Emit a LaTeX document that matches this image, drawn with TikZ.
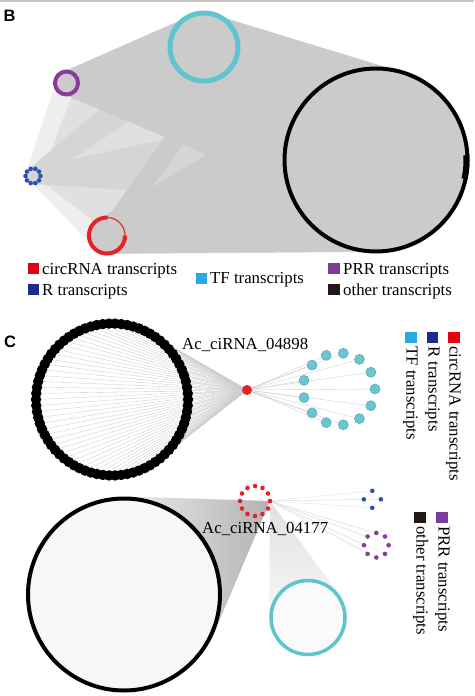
\documentclass[tikz,border=0pt]{standalone}
\usepackage{fontspec}
\setmainfont{Liberation Serif}
\newfontfamily\panelfont{Liberation Sans}
\usetikzlibrary{calc,backgrounds}
\definecolor{ringcyan}{HTML}{5EC5CF}
\definecolor{ringpurple}{HTML}{8A3B98}
\definecolor{ringblue}{HTML}{2D4FB3}
\definecolor{ringred}{HTML}{E8202A}
\definecolor{legred}{HTML}{E60012}
\definecolor{legblue}{HTML}{1B2C8C}
\definecolor{legcyan}{HTML}{29ABE2}
\definecolor{legpurple}{HTML}{7D3C98}
\definecolor{legblack}{HTML}{231815}
\definecolor{dotcyan}{HTML}{6CC6D1}
\definecolor{dotcyanedge}{HTML}{4FAAB6}
\definecolor{shadeA}{RGB}{203,203,203}
\definecolor{shadeB}{RGB}{213,213,213}
\definecolor{shadeC}{RGB}{224,224,224}
\definecolor{shadeD}{RGB}{238,238,238}
\tikzset{
  lab/.style={font=\fontsize{16.8}{18}\selectfont, inner sep=0pt, anchor=base west},
  panel/.style={font=\panelfont\bfseries\fontsize{16.5}{18}\selectfont, inner sep=0pt, anchor=base west},
  sq/.style={rectangle, inner sep=0pt, minimum width=11.5pt, minimum height=11pt},
  bdot/.style={circle, fill=black, inner sep=0pt, minimum size=10.5pt},
  cdot/.style={circle, fill=dotcyan, draw=dotcyanedge, line width=0.5pt, inner sep=0pt, minimum size=10pt},
  hub/.style={circle, fill=ringred, inner sep=0pt, minimum size=10pt},
  sdot/.style={circle, inner sep=0pt, minimum size=4.6pt},
  edgeC/.style={black!20, line width=0.35pt},
  edgeF/.style={black!12, line width=0.3pt},
}
% filled convex hull of two circles (solid colour)
\newcommand\hullfill[7]{%
  \pgfmathsetmacro\hphi{atan2((#5)-(#2),(#4)-(#1))}%
  \pgfmathsetmacro\hd{veclen((#4)-(#1),(#5)-(#2))}%
  \pgfmathsetmacro\hb{acos(((#3)-(#6))/\hd)}%
  \pgfmathsetmacro\haa{\hphi+\hb}%
  \pgfmathsetmacro\hba{\hphi-\hb}%
  \pgfmathsetmacro\pax{#1+#3*cos(\haa)}\pgfmathsetmacro\pay{#2+#3*sin(\haa)}%
  \pgfmathsetmacro\pbx{#4+#6*cos(\haa)}\pgfmathsetmacro\pby{#5+#6*sin(\haa)}%
  \pgfmathsetmacro\pcx{#4+#6*cos(\hba)}\pgfmathsetmacro\pcy{#5+#6*sin(\hba)}%
  \pgfmathsetmacro\pdx{#1+#3*cos(\hba)}\pgfmathsetmacro\pdy{#2+#3*sin(\hba)}%
  \fill[#7] (\pax,\pay) -- (\pbx,\pby) -- (\pcx,\pcy) -- (\pdx,\pdy) -- cycle;%
  \fill[#7] (#1,#2) circle[radius=#3];%
  \fill[#7] (#4,#5) circle[radius=#6];%
}
\begin{document}
\begin{tikzpicture}[x=1pt,y=-1pt]
\useasboundingbox (0,0) rectangle (474,696);
\begin{pgfonlayer}{background}
\fill[white] (0,0) rectangle (474,696);
\end{pgfonlayer}
\draw[black!22, line width=1.5pt] (0,0.75) -- (474,0.75);

% ---------------- Panel B ----------------
\node[panel] (labB) at (3.5,21.7) {B};
% faint underlayers
\fill[shadeD] (58,76) -- (25,176) -- (95,248) -- (120,228) -- (72,94) -- cycle;
\fill[shadeC] (62,72) -- (204,13) -- (403,72) -- (376,252) -- (107,254) -- (95,222) -- (40,180) -- (72,95) -- cycle;
\fill[shadeC] (376,160) circle[radius=91.5];
\fill[shadeC] (204,47) circle[radius=34];
% medium layer
\hullfill{33}{176}{8}{376}{150}{55}{shadeB}
\hullfill{33}{176}{8}{204}{47}{20}{shadeB}
% main layer
\hullfill{66.5}{83}{11.5}{376}{150}{70}{shadeA}
\hullfill{66.5}{83}{11.5}{204}{47}{34}{shadeA}
\hullfill{204}{47}{34}{376}{160}{91.5}{shadeA}
\hullfill{107}{235.5}{18}{376}{160}{91.5}{shadeA}
\hullfill{115}{222}{9}{222}{75}{10}{shadeA}

\draw[ringcyan, line width=5pt] (204,47) circle[radius=34];
\draw[ringpurple, line width=4pt] (66.5,83) circle[radius=11.5];
\foreach \k in {0,...,9} \node[sdot, fill=ringblue] (bB\k) at ($(33,176)+({\k*36}:7.5)$) {};
\draw[ringred, line width=4pt] plot[domain=0:272, samples=70] ({107+18*cos(\x)},{235.5+18*sin(\x)});
\draw[ringred, line width=1.1pt] plot[domain=270:360, samples=30] ({107+18*cos(\x)},{235.5+18*sin(\x)});
\draw[line width=4pt] (376,160) circle[radius=91.5];
\draw[line width=6pt] plot[domain=-3:12, samples=10] ({376+90.5*cos(\x)},{160+90.5*sin(\x)});

% legend B
\node[sq, fill=legred] (sqb1) at (33.5,268) {};
\node[lab] (tb1) at (42,274) {circRNA transcripts};
\node[sq, fill=legblue] (sqb2) at (33.5,289.5) {};
\node[lab] (tb2) at (42,295) {R transcripts};
\node[sq, fill=legcyan] (sqb3) at (201.5,278.5) {};
\node[lab] (tb3) at (210,283.5) {TF transcripts};
\node[sq, fill=legpurple] (sqb4) at (334,268) {};
\node[lab] (tb4) at (343,274) {PRR transcripts};
\node[sq, fill=legblack] (sqb5) at (334,289.5) {};
\node[lab] (tb5) at (343,295) {other transcripts};

% ---------------- Panel C (top) ----------------
\node[panel] (labC) at (4,347) {C};
\foreach \i in {1,...,78} \node[bdot] (bk\i) at ($(112,399.5)+({\i/78*360}:76)$) {};
\node[hub] (hub1) at (247,390) {};
\foreach \k in {0,...,12} \node[cdot] (tf\k) at ($(339,389)+({\k/13*360}:36)$) {};
\begin{pgfonlayer}{background}
\foreach \i in {1,...,78} \draw[edgeC] (hub1.center) -- (bk\i.center);
\foreach \k in {0,...,12} \draw[edgeC] (hub1.center) -- (tf\k.center);
\end{pgfonlayer}
\node[lab] (lblA) at (182,349) {Ac\_ciRNA\_04898};

% legend C (rotated)
\node[sq, fill=legred] (sqc1) at (454,337.5) {};
\node[lab, rotate=-90] (tc1) at (449.5,346) {circRNA transcripts};
\node[sq, fill=legblue] (sqc2) at (432.5,337.5) {};
\node[lab, rotate=-90] (tc2) at (428.5,346) {R transcripts};
\node[sq, fill=legcyan] (sqc3) at (411,337.5) {};
\node[lab, rotate=-90] (tc3) at (406.5,346) {TF transcripts};
\node[sq, fill=legpurple] (sqc4) at (442,517.5) {};
\node[lab, rotate=-90] (tc4) at (438.5,526) {PRR transcripts};
\node[sq, fill=legblack] (sqc5) at (420,517.5) {};
\node[lab, rotate=-90] (tc5) at (416.5,526) {other transcripts};

% ---------------- Panel C (bottom) ----------------
\node[circle, draw, line width=4pt, fill=black!3, minimum size=192pt, inner sep=0pt] (K2) at (124,594.5) {};
\node[circle, draw=ringcyan, line width=3.5pt, fill=black!2, minimum size=74pt, inner sep=0pt] (T2) at (308,617.5) {};
\foreach \k in {0,...,11} \node[sdot, fill=ringred] (rc\k) at ($(255,501)+({\k*30}:15)$) {};
\foreach \k in {0,...,3} \node[sdot, fill=ringblue] (rb\k) at ($(372.3,499.3)+({\k*90}:8.5)$) {};
\foreach \k in {0,...,7} \node[sdot, fill=ringpurple] (rp\k) at ($(376.3,545.2)+({\k*45}:12.3)$) {};
\begin{pgfonlayer}{background}
\shade[left color=black!8, right color=black!30] (rc0.center) -- (tangent cs:node=K2,point={(rc0.center)},solution=1) -- (tangent cs:node=K2,point={(rc0.center)},solution=2) -- cycle;
\shade[top color=black!12, bottom color=black!3] (rc0.center) -- (tangent cs:node=T2,point={(rc0.center)},solution=1) -- (tangent cs:node=T2,point={(rc0.center)},solution=2) -- cycle;
\foreach \k in {0,...,3} \draw[edgeF] (rc0.center) -- (rb\k.center);
\foreach \k in {0,...,7} \draw[edgeF] (rc0.center) -- (rp\k.center);
\end{pgfonlayer}
\node[lab] (lblB) at (202,533) {Ac\_ciRNA\_04177};
\end{tikzpicture}
\end{document}
